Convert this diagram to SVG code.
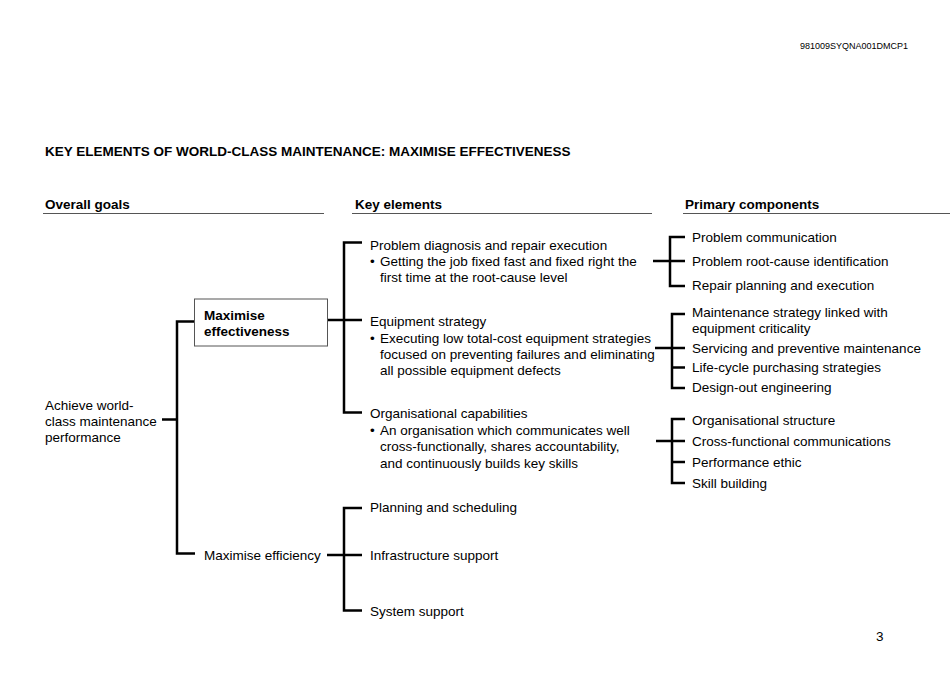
<svg xmlns="http://www.w3.org/2000/svg" width="950" height="673" viewBox="0 0 950 673">
<style>
text{font-family:"Liberation Sans",Arial,sans-serif;font-size:13.5px;fill:#000}
.b{font-weight:bold}
.hd{font-weight:bold;font-size:13.5px}
.ul{stroke:#555;stroke-width:1.2}
.br{fill:none;stroke:#000;stroke-width:2.5}
</style>
<rect width="950" height="673" fill="#fff"/>
<text x="800" y="49" style="font-size:9px">981009SYQNA001DMCP1</text>
<text x="45" y="156" class="b">KEY ELEMENTS OF WORLD-CLASS MAINTENANCE: MAXIMISE EFFECTIVENESS</text>
<g id="headers">
<text x="45" y="209" class="hd">Overall goals</text>
<line x1="43" y1="213.5" x2="324" y2="213.5" class="ul"/>
<text x="355" y="209" class="hd">Key elements</text>
<line x1="352" y1="213.5" x2="652" y2="213.5" class="ul"/>
<text x="685" y="209" class="hd">Primary components</text>
<line x1="683" y1="213.5" x2="950" y2="213.5" class="ul"/>
</g>
<g id="connectors">
<path class="br" d="M162 419.5H177M194 321.5H177V553.5H195"/>
<path class="br" d="M328 320H362M362 242.5H344V412.5H362"/>
<path class="br" d="M327 555H362M362 508H344V610.5H362"/>
<path class="br" d="M653 261H685M685 237H670V286H685"/>
<path class="br" d="M655 348H685M685 314H672V388H685M672 367.5H685"/>
<path class="br" d="M656 441H685M685 419H672V483H685M672 462H685"/>
</g>
<g id="goal">
<text x="45" y="410">Achieve world-</text>
<text x="45" y="426">class maintenance</text>
<text x="45" y="442">performance</text>
</g>
<g id="effectiveness">
<rect x="194.5" y="299" width="133" height="47" fill="#fff" stroke="#555" stroke-width="1"/>
<text x="204" y="320" class="b">Maximise</text>
<text x="204" y="336" class="b">effectiveness</text>
</g>
<g id="efficiency"><text x="204" y="560">Maximise efficiency</text></g>
<g id="problem">
<text x="370" y="250">Problem diagnosis and repair execution</text>
<text x="370" y="266">•</text><text x="380" y="266">Getting the job fixed fast and fixed right the</text>
<text x="380" y="282">first time at the root-cause level</text>
</g>
<g id="equipment">
<text x="370" y="326">Equipment strategy</text>
<text x="370" y="343">•</text><text x="380" y="343">Executing low total-cost equipment strategies</text>
<text x="380" y="359">focused on preventing failures and eliminating</text>
<text x="380" y="375">all possible equipment defects</text>
</g>
<g id="organisational">
<text x="370" y="418">Organisational capabilities</text>
<text x="370" y="435">•</text><text x="380" y="435">An organisation which communicates well</text>
<text x="380" y="451">cross-functionally, shares accountability,</text>
<text x="380" y="468">and continuously builds key skills</text>
</g>
<g id="planning"><text x="370" y="512">Planning and scheduling</text></g>
<g id="infrastructure"><text x="370" y="560">Infrastructure support</text></g>
<g id="system"><text x="370" y="616">System support</text></g>
<g id="pc1">
<text x="692" y="242">Problem communication</text>
<text x="692" y="266">Problem root-cause identification</text>
<text x="692" y="290">Repair planning and execution</text>
</g>
<g id="pc2">
<text x="692" y="317">Maintenance strategy linked with</text>
<text x="692" y="333">equipment criticality</text>
<text x="692" y="353">Servicing and preventive maintenance</text>
<text x="692" y="372">Life-cycle purchasing strategies</text>
<text x="692" y="392">Design-out engineering</text>
</g>
<g id="pc3">
<text x="692" y="425">Organisational structure</text>
<text x="692" y="446">Cross-functional communications</text>
<text x="692" y="467">Performance ethic</text>
<text x="692" y="488">Skill building</text>
</g>
<text x="876" y="641">3</text>
</svg>
